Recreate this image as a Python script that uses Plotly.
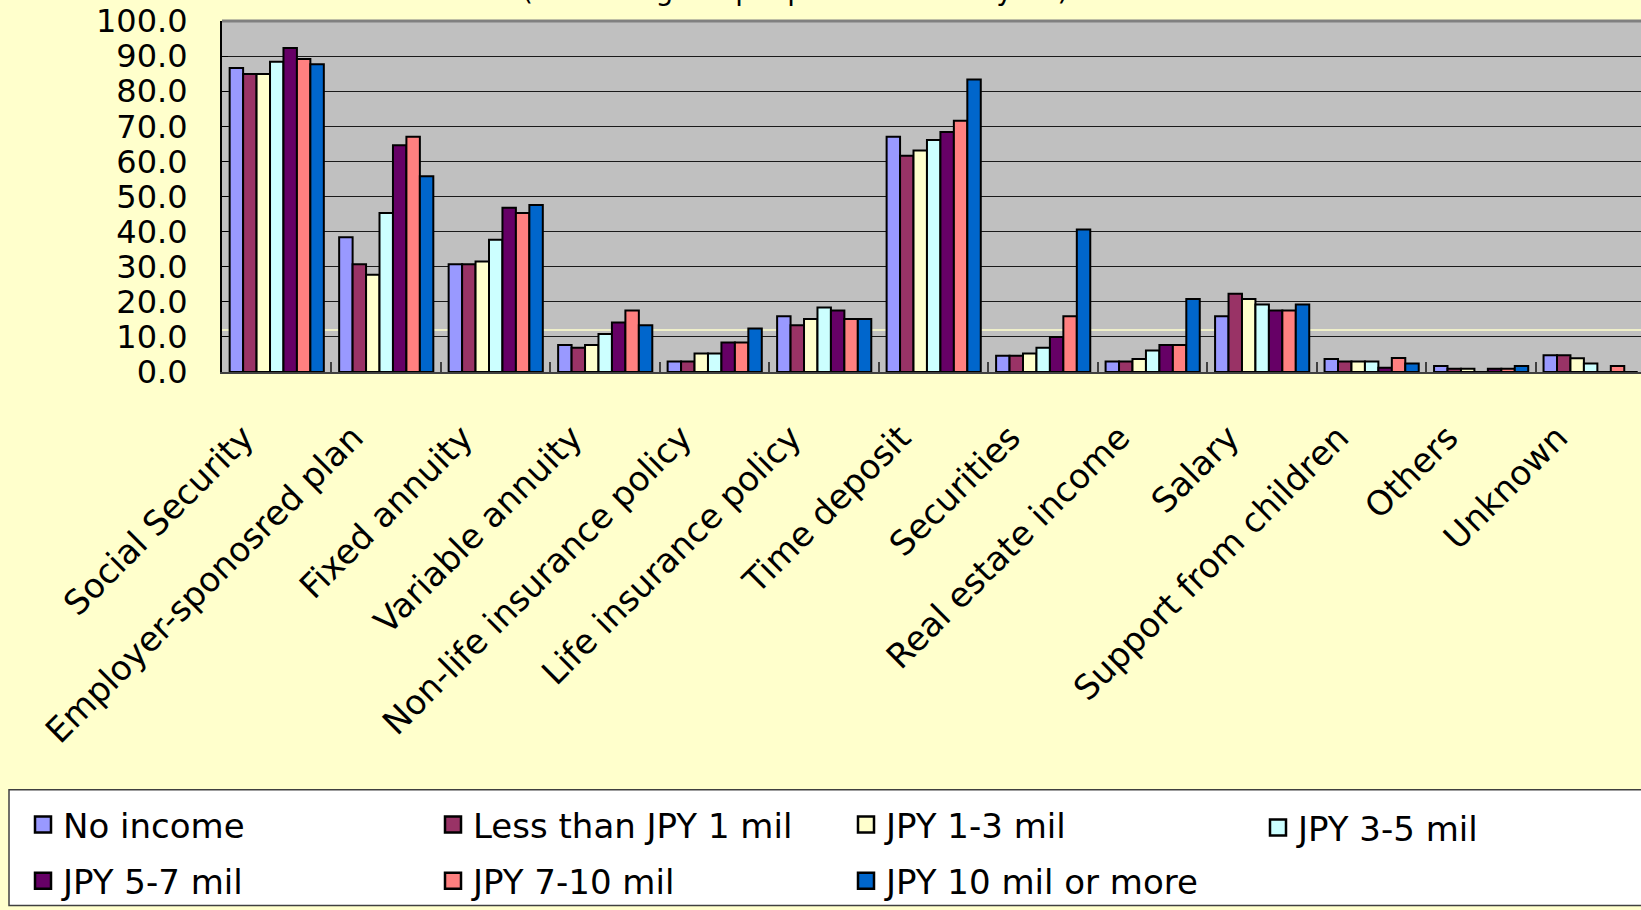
import plotly.graph_objects as go

# Sources of retirement income, by annual household income (% answering "yes")
categories = [
    "Social Security", "Employer-sponosred plan", "Fixed annuity",
    "Variable annuity", "Non-life insurance policy", "Life insurance policy",
    "Time deposit", "Securities", "Real estate income", "Salary",
    "Support from children", "Others", "Unknown",
]

no_income      = [86.6, 38.4, 30.7, 7.7, 3.0, 15.9, 67.0, 4.6, 3.0, 15.9, 3.7, 1.7, 4.8]
less_1_mil     = [84.9, 30.7, 30.7, 6.9, 3.0, 13.3, 61.6, 4.6, 3.0, 22.3, 3.0, 0.9, 4.8]
jpy_1_3_mil    = [84.9, 27.7, 31.5, 7.7, 5.3, 15.1, 63.1, 5.3, 3.7, 20.8, 3.0, 0.9, 3.9]
jpy_3_5_mil    = [88.4, 45.3, 37.7, 10.8, 5.3, 18.4, 66.1, 6.9, 6.1, 19.2, 3.0, 0.0, 2.4]
jpy_5_7_mil    = [92.3, 64.6, 46.8, 14.1, 8.4, 17.5, 68.4, 10.0, 7.7, 17.5, 1.2, 0.9, 0.0]
jpy_7_10_mil   = [89.2, 67.0, 45.3, 17.5, 8.4, 15.1, 71.6, 15.9, 7.7, 17.5, 4.0, 0.9, 1.7]
jpy_10_mil_up  = [87.7, 55.8, 47.6, 13.3, 12.4, 15.1, 83.3, 40.6, 20.8, 19.2, 2.4, 1.7, 0.0]

series_names = [
    "No income", "Less than JPY 1 mil", "JPY 1-3 mil", "JPY 3-5 mil",
    "JPY 5-7 mil", "JPY 7-10 mil", "JPY 10 mil or more",
]
series_values = [no_income, less_1_mil, jpy_1_3_mil, jpy_3_5_mil,
                 jpy_5_7_mil, jpy_7_10_mil, jpy_10_mil_up]
series_colors = ["#9999FF", "#993366", "#FFFFCC", "#CCFFFF",
                 "#660066", "#FF8080", "#0066CC"]
# legend columns: four across, filled row by row
series_legend = ["legend", "legend2", "legend3", "legend4",
                 "legend", "legend2", "legend3"]

y_ticks = [0, 10, 20, 30, 40, 50, 60, 70, 80, 90, 100]
reference_level = 12.0

FONT = "DejaVu Sans"
W, H = 1641, 910
M_L, M_R, M_T, M_B = 222, 0, 21, 537
PW = W - M_L - M_R
PH = H - M_T - M_B


def px_x(x):
    return (x - M_L) / PW


def px_y(y):
    return (H - M_B - y) / PH


fig = go.Figure()
for name, vals, col in zip(series_names, series_values, series_colors):
    fig.add_trace(go.Bar(
        name=name, x=categories, y=vals, showlegend=False,
        marker=dict(color=col, line=dict(color="#000000", width=2)),
    ))

# legend keys (square swatches, same colours as the bars)
for name, col, lg in zip(series_names, series_colors, series_legend):
    fig.add_trace(go.Scatter(
        name=name, x=[None], y=[None], mode="markers",
        marker=dict(symbol="square", size=16, color=col,
                    line=dict(color="#000000", width=2.5)),
        legend=lg, legendgroup=name, showlegend=True, hoverinfo="skip",
    ))

# legend frame
fig.add_shape(type="rect", xref="paper", yref="paper",
              x0=px_x(9), x1=px_x(W + 10), y0=px_y(792), y1=px_y(908),
              fillcolor="#FFFFFF", line=dict(color="#404040", width=1.5),
              layer="below")
# pale reference line behind the bars
fig.add_shape(type="line", xref="paper", yref="y", x0=0, x1=1,
              y0=reference_level, y1=reference_level,
              line=dict(color="#FFFFCC", width=1.5), layer="below")
# top frame edge
fig.add_shape(type="line", xref="paper", yref="paper", x0=0, x1=1, y0=1, y1=1,
              line=dict(color="#808080", width=3))

fig.add_annotation(
    text='(Percentage of people answered "yes")',
    xref="paper", yref="paper", x=px_x(795), y=px_y(9),
    xanchor="center", yanchor="bottom", showarrow=False,
    font=dict(family=FONT, size=28, color="#000000"),
)

legend_common = dict(
    orientation="v", xanchor="left", yanchor="middle",
    bgcolor="rgba(0,0,0,0)", borderwidth=0, tracegroupgap=9,
    font=dict(family=FONT, size=34, color="#000000"),
    traceorder="grouped",
)
row_mid = px_y(856)
row_top = px_y(828)

fig.update_layout(
    width=W, height=H,
    margin=dict(l=M_L, r=M_R, t=M_T, b=M_B, pad=0),
    paper_bgcolor="#FFFFCC", plot_bgcolor="#C0C0C0",
    barmode="group", bargap=0.14, bargroupgap=0,
    font=dict(family=FONT, color="#000000"),
    showlegend=True,
    legend=dict(x=px_x(23), y=row_mid, **legend_common),
    legend2=dict(x=px_x(433), y=row_mid, **legend_common),
    legend3=dict(x=px_x(846), y=row_mid, **legend_common),
    legend4=dict(x=px_x(1258), y=row_top, **legend_common),
    xaxis=dict(
        range=[-0.5, 12.46], tickangle=-45,
        tickson="boundaries", ticks="inside", ticklen=10, tickcolor="#404040",
        tickwidth=1.5, showgrid=False, showline=True, linecolor="#404040",
        linewidth=2, tickfont=dict(family=FONT, size=34),
        ticklabelstandoff=30, ticklabelshift=-33,
        fixedrange=True,
    ),
    yaxis=dict(
        range=[0, 100], tickvals=y_ticks, tickformat=".1f",
        ticks="inside", ticklen=6, tickcolor="#000000",
        showgrid=True, gridcolor="#1A1A1A", gridwidth=1.3,
        showline=True, linecolor="#000000", linewidth=2, zeroline=False,
        tickfont=dict(family=FONT, size=32), ticklabelstandoff=26,
        fixedrange=True,
    ),
)

fig.write_html("out.html", config={"displayModeBar": False})
